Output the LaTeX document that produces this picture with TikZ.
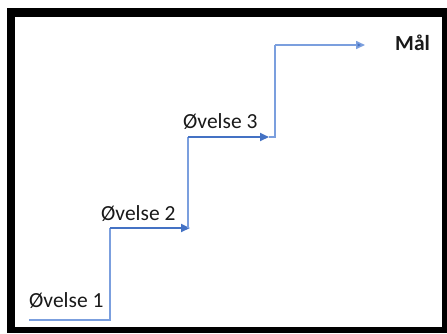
\documentclass[tikz,border=0pt]{standalone}
\usepackage{fontspec}
\setmainfont{Carlito}
\usetikzlibrary{arrows.meta}
\definecolor{darkblue}{HTML}{4472C4}
\definecolor{lightblue}{HTML}{7B9FDE}
\tikzset{
  lbl/.style={anchor=base west,inner sep=0pt,text=black!90,font=\fontsize{21.5bp}{24bp}\selectfont},
  conn/.style={draw=lightblue,line width=1.6bp},
  arr/.style={draw=darkblue,line width=2bp,-{Triangle[length=9bp,width=8bp]}},
}
\begin{document}
\begin{tikzpicture}[x=1bp,y=-1bp]
\useasboundingbox (0,0) rectangle (447,333);
\fill[black] (7,8) rectangle (447,333);
\fill[white] (15,17) rectangle (442,327);
\node[lbl] (o1) at (29,307) {Øvelse 1};
\node[lbl] (o2) at (101,220) {Øvelse 2};
\node[lbl] (o3) at (183,128) {Øvelse 3};
\node[lbl,font=\fontsize{21.5bp}{24bp}\selectfont\bfseries] (maal) at (395,50) {Mål};
\coordinate (a0) at (29,320);
\coordinate (a1) at (110,320);
\coordinate (b0) at (110,228);
\coordinate (b1) at (190,228);
\coordinate (b2) at (188,228);
\coordinate (c0) at (188,137);
\coordinate (c1) at (269,137);
\coordinate (c2) at (275,137);
\coordinate (d0) at (275,45);
\coordinate (d1) at (365,45);
\draw[conn] (a0) -- (a1) -- (b0);
\draw[arr] (b0) -- (b1);
\draw[conn] (b2) -- (c0);
\draw[arr] (c0) -- (c1);
\draw[conn] (c1) -- (c2) -- (d0);
\draw[conn,-{Triangle[length=9bp,width=8bp,fill=darkblue]}] (d0) -- (d1);
\end{tikzpicture}
\end{document}
